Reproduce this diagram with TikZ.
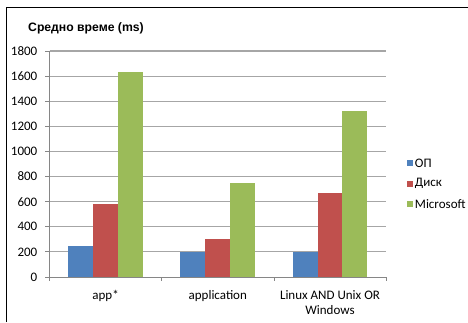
\documentclass[tikz,border=0pt]{standalone}
\usepackage{fontspec}
\setmainfont{Carlito}
\newfontfamily\titlefont{Liberation Sans}
\usepackage{xcolor}
\usepackage{tikz}
\usetikzlibrary{calc,backgrounds}

\definecolor{opblue}{HTML}{4F81BD}
\definecolor{diskred}{HTML}{C0504D}
\definecolor{msgreen}{HTML}{9BBB59}
\definecolor{gridgray}{HTML}{A6A6A6}
\definecolor{axisgray}{HTML}{868686}

\tikzset{
  gridline/.style={draw=gridgray, line width=1.1pt},
  axisline/.style={draw=axisgray, line width=0.8pt},
  ticklabel/.style={anchor=east, inner sep=0pt, font=\fontsize{13}{15}\selectfont},
  catlabel/.style={align=center, inner sep=0pt, font=\fontsize{13}{15}\selectfont},
  keybox/.style={minimum size=6pt, inner sep=0pt},
  keylabel/.style={anchor=west, inner sep=0pt, font=\fontsize{13}{15}\selectfont}
}

\begin{document}
\begin{tikzpicture}[x=1pt,y=-1pt]
    \useasboundingbox (0,0) rectangle (468,322);
    \draw [black,line width=1pt] (6,322) -- (6,7) -- (468,7);
    \node [anchor=west,inner sep=0pt,font=\titlefont\bfseries\fontsize{12.2}{14}\selectfont] (title) at (28,28) {Средно време (ms)};

    % plot area, y in ms
    \begin{scope}[shift={(49.5,277)}, y=0.125556pt]
    \draw [gridline] (0,200) -- (336.5,200);
    \draw [gridline] (0,400) -- (336.5,400);
    \draw [gridline] (0,600) -- (336.5,600);
    \draw [gridline] (0,800) -- (336.5,800);
    \draw [gridline] (0,1000) -- (336.5,1000);
    \draw [gridline] (0,1200) -- (336.5,1200);
    \draw [gridline] (0,1400) -- (336.5,1400);
    \draw [gridline] (0,1600) -- (336.5,1600);
    \draw [gridline] (0,1800) -- (336.5,1800);

    \fill [opblue] (18.7,0) rectangle (43.6,250);
    \fill [diskred] (43.6,0) rectangle (68.5,580);
    \fill [msgreen] (68.5,0) rectangle (93.4,1630);

    \fill [opblue] (130.9,0) rectangle (155.8,200);
    \fill [diskred] (155.8,0) rectangle (180.7,305);
    \fill [msgreen] (180.7,0) rectangle (205.6,750);

    \fill [opblue] (243.1,0) rectangle (268,200);
    \fill [diskred] (268,0) rectangle (292.9,670);
    \fill [msgreen] (292.9,0) rectangle (317.8,1325);

    \coordinate (origin) at (0,0);
    \coordinate (ytop) at (0,1800);
    \coordinate (xend) at (336.5,0);
    \draw [axisline] (ytop) -- (origin) -- (xend);
    \draw [axisline] (-4.5,0) -- (0,0) (-4.5,200) -- (0,200) (-4.5,400) -- (0,400)
      (-4.5,600) -- (0,600) (-4.5,800) -- (0,800) (-4.5,1000) -- (0,1000)
      (-4.5,1200) -- (0,1200) (-4.5,1400) -- (0,1400) (-4.5,1600) -- (0,1600)
      (-4.5,1800) -- (0,1800);
    \draw [axisline] (0,0) -- (0,-32) (112.2,0) -- (112.2,-32) (224.4,0) -- (224.4,-32)
      (336.5,0) -- (336.5,-32);

    \node [ticklabel] (y0) at (-12,0) {0};
    \node [ticklabel] (y200) at (-12,200) {200};
    \node [ticklabel] (y400) at (-12,400) {400};
    \node [ticklabel] (y600) at (-12,600) {600};
    \node [ticklabel] (y800) at (-12,800) {800};
    \node [ticklabel] (y1000) at (-12,1000) {1000};
    \node [ticklabel] (y1200) at (-12,1200) {1200};
    \node [ticklabel] (y1400) at (-12,1400) {1400};
    \node [ticklabel] (y1600) at (-12,1600) {1600};
    \node [ticklabel] (y1800) at (-12,1800) {1800};
    \end{scope}

    \node [catlabel,anchor=north] (catapp) at (105.6,290) {app*};
    \node [catlabel,anchor=north] (catappl) at (217.8,290) {application};
    \node [catlabel,anchor=north] (catlinux) at (330,290) {Linux AND Unix OR\\Windows};

    % legend
    \node [keybox,fill=opblue] (keyop) at (410,163) {};
    \node [keybox,fill=diskred] (keydisk) at (410,183.5) {};
    \node [keybox,fill=msgreen] (keyms) at (410,204) {};
    \node [keylabel] (labop) at ($(keyop.east)+(1.5,0)$) {ОП};
    \node [keylabel] (labdisk) at ($(keydisk.east)+(1.5,0)$) {Диск};
    \node [keylabel] (labms) at ($(keyms.east)+(1.5,0)$) {Microsoft};
\end{tikzpicture}
\end{document}
